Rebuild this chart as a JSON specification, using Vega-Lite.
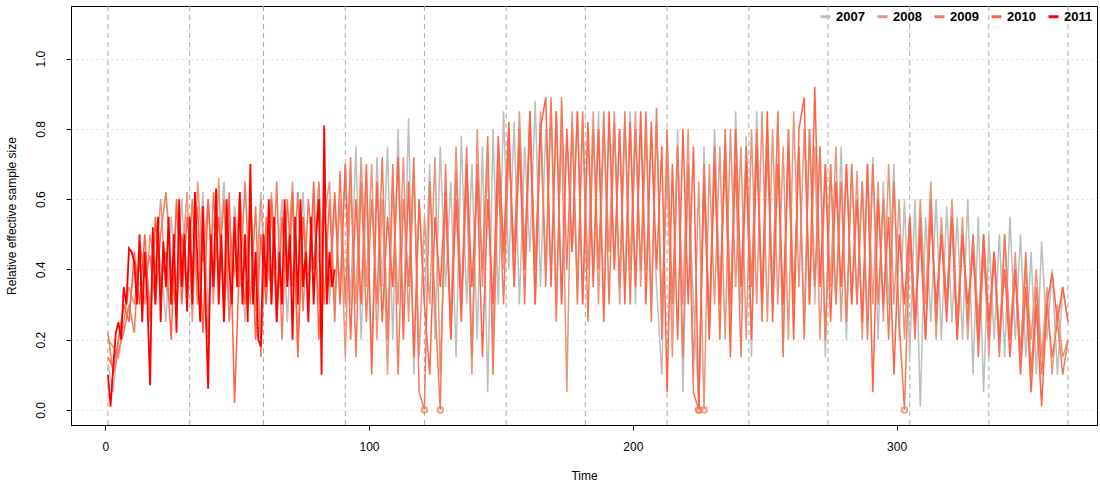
{
"$schema":"https://vega.github.io/schema/vega-lite/v6.json",
"autosize":{"type":"fit","contains":"padding"},
"width":1100,"height":488,
"background":"white",
"padding":{"left":5,"top":5,"right":3,"bottom":7},
"config":{"font":"Liberation Sans","view":{"stroke":"black","strokeWidth":1},"axis":{"labelFontSize":12,"titleFontSize":12,"titleFontWeight":"normal","tickColor":"black","domainColor":"black","labelColor":"black","titleColor":"black"}},
"datasets":{
"a":[
{"t":1,"a":0.13,"b":0.2,"c":0.22,"d":0.15},{"t":3,"a":0.05,"b":0.18,"c":0.1,"d":0.12},{"t":5,"a":0.2,"b":0.15,"c":0.17,"d":0.2},{"t":7,"a":0.3,"b":0.25,"c":0.22,"d":0.3},{"t":9,"a":0.28,"b":0.35,"c":0.3,"d":0.25},{"t":11,"a":0.4,"b":0.3,"c":0.22,"d":0.45},{"t":13,"a":0.35,"b":0.42,"c":0.48,"d":0.3},{"t":15,"a":0.45,"b":0.3,"c":0.38,"d":0.5},{"t":17,"a":0.3,"b":0.5,"c":0.44,"d":0.25},{"t":19,"a":0.5,"b":0.4,"c":0.3,"d":0.55},{"t":21,"a":0.42,"b":0.6,"c":0.5,"d":0.35},{"t":23,"a":0.25,"b":0.35,"c":0.62,"d":0.45},{"t":25,"a":0.55,"b":0.3,"c":0.4,"d":0.2},{"t":27,"a":0.35,"b":0.58,"c":0.28,"d":0.6},{"t":29,"a":0.6,"b":0.4,"c":0.5,"d":0.3},{"t":31,"a":0.3,"b":0.62,"c":0.35,"d":0.55},
{"t":33,"a":0.52,"b":0.25,"c":0.6,"d":0.4},{"t":35,"a":0.38,"b":0.65,"c":0.3,"d":0.58},{"t":37,"a":0.62,"b":0.42,"c":0.55,"d":0.22},{"t":39,"a":0.28,"b":0.6,"c":0.2,"d":0.6},{"t":41,"a":0.55,"b":0.3,"c":0.62,"d":0.35},{"t":43,"a":0.4,"b":0.66,"c":0.38,"d":0.55},{"t":45,"a":0.65,"b":0.25,"c":0.6,"d":0.3},{"t":47,"a":0.3,"b":0.55,"c":0.25,"d":0.62},{"t":49,"a":0.58,"b":0.38,"c":0.5,"d":0.02},{"t":51,"a":0.45,"b":0.62,"c":0.35,"d":0.45},{"t":53,"a":0.25,"b":0.4,"c":0.65,"d":0.3},{"t":55,"a":0.6,"b":0.55,"c":0.3,"d":0.6},{"t":57,"a":0.35,"b":0.28,"c":0.58,"d":0.2},{"t":59,"a":0.62,"b":0.6,"c":0.15,"d":0.5},{"t":61,"a":0.3,"b":0.35,"c":0.55,"d":0.3},
{"t":63,"a":0.55,"b":0.62,"c":0.3,"d":0.6},{"t":65,"a":0.4,"b":0.3,"c":0.65,"d":0.25},{"t":67,"a":0.6,"b":0.55,"c":0.2,"d":0.55},{"t":69,"a":0.25,"b":0.42,"c":0.6,"d":0.35},{"t":71,"a":0.58,"b":0.65,"c":0.35,"d":0.62},{"t":73,"a":0.35,"b":0.2,"c":0.62,"d":0.15},{"t":75,"a":0.62,"b":0.55,"c":0.28,"d":0.55},{"t":77,"a":0.3,"b":0.38,"c":0.6,"d":0.3},{"t":79,"a":0.55,"b":0.6,"c":0.4,"d":0.65},{"t":81,"a":0.42,"b":0.3,"c":0.65,"d":0.2},{"t":83,"a":0.6,"b":0.55,"c":0.3,"d":0.58},{"t":85,"a":0.3,"b":0.65,"c":0.6,"d":0.35},{"t":87,"a":0.58,"b":0.3,"c":0.25,"d":0.62},{"t":89,"a":0.35,"b":0.6,"c":0.68,"d":0.3},
{"t":91,"a":0.7,"b":0.15,"c":0.3,"d":0.7},{"t":93,"a":0.3,"b":0.65,"c":0.72,"d":0.2},{"t":95,"a":0.75,"b":0.3,"c":0.15,"d":0.6},{"t":97,"a":0.2,"b":0.72,"c":0.65,"d":0.3},{"t":99,"a":0.62,"b":0.35,"c":0.25,"d":0.7},{"t":101,"a":0.15,"b":0.7,"c":0.6,"d":0.1},{"t":103,"a":0.72,"b":0.2,"c":0.3,"d":0.65},{"t":105,"a":0.35,"b":0.6,"c":0.72,"d":0.25},{"t":107,"a":0.75,"b":0.1,"c":0.2,"d":0.55},{"t":109,"a":0.2,"b":0.65,"c":0.7,"d":0.35},{"t":111,"a":0.8,"b":0.3,"c":0.1,"d":0.72},{"t":113,"a":0.25,"b":0.72,"c":0.6,"d":0.2},{"t":115,"a":0.83,"b":0.25,"c":0.35,"d":0.65},{"t":117,"a":0.1,"b":0.68,"c":0.72,"d":0.15},{"t":119,"a":0.6,"b":0.15,"c":0.05,"d":0.6},{"t":121,"a":0.3,"b":0.55,"c":0.0,"d":0.3},{"t":123,"a":0.7,"b":0.3,"c":0.65,"d":0.1},{"t":125,"a":0.2,"b":0.72,"c":0.3,"d":0.55},{"t":127,"a":0.75,"b":0.1,"c":0.0,"d":0.35},{"t":129,"a":0.35,"b":0.6,"c":0.7,"d":0.62},{"t":131,"a":0.65,"b":0.25,"c":0.2,"d":0.2},{"t":133,"a":0.15,"b":0.75,"c":0.68,"d":0.6},{"t":135,"a":0.78,"b":0.3,"c":0.3,"d":0.25},{"t":137,"a":0.3,"b":0.65,"c":0.75,"d":0.7},{"t":139,"a":0.7,"b":0.1,"c":0.15,"d":0.35},{"t":141,"a":0.2,"b":0.8,"c":0.7,"d":0.65},{"t":143,"a":0.75,"b":0.35,"c":0.4,"d":0.15},{"t":145,"a":0.05,"b":0.7,"c":0.78,"d":0.6},{"t":147,"a":0.8,"b":0.2,"c":0.1,"d":0.3},{"t":149,"a":0.3,"b":0.72,"c":0.68,"d":0.78},
{"t":151,"a":0.85,"b":0.4,"c":0.3,"d":0.45},{"t":153,"a":0.4,"b":0.8,"c":0.75,"d":0.82},{"t":155,"a":0.82,"b":0.35,"c":0.45,"d":0.35},{"t":157,"a":0.3,"b":0.85,"c":0.8,"d":0.75},{"t":159,"a":0.75,"b":0.45,"c":0.3,"d":0.4},{"t":161,"a":0.45,"b":0.82,"c":0.85,"d":0.85},{"t":163,"a":0.88,"b":0.3,"c":0.4,"d":0.3},{"t":165,"a":0.35,"b":0.85,"c":0.82,"d":0.8},{"t":167,"a":0.8,"b":0.4,"c":0.35,"d":0.89},{"t":169,"a":0.4,"b":0.89,"c":0.88,"d":0.35},{"t":171,"a":0.85,"b":0.3,"c":0.25,"d":0.85},{"t":173,"a":0.3,"b":0.8,"c":0.89,"d":0.3},{"t":175,"a":0.78,"b":0.05,"c":0.4,"d":0.8},{"t":177,"a":0.45,"b":0.85,"c":0.82,"d":0.45},{"t":179,"a":0.85,"b":0.35,"c":0.3,"d":0.85},{"t":181,"a":0.3,"b":0.82,"c":0.85,"d":0.3},{"t":183,"a":0.8,"b":0.4,"c":0.25,"d":0.82},{"t":185,"a":0.4,"b":0.85,"c":0.8,"d":0.35},{"t":187,"a":0.85,"b":0.3,"c":0.4,"d":0.8},{"t":189,"a":0.3,"b":0.8,"c":0.85,"d":0.25},{"t":191,"a":0.82,"b":0.45,"c":0.3,"d":0.85},{"t":193,"a":0.4,"b":0.85,"c":0.82,"d":0.4},{"t":195,"a":0.8,"b":0.3,"c":0.35,"d":0.8},{"t":197,"a":0.35,"b":0.82,"c":0.85,"d":0.3},{"t":199,"a":0.85,"b":0.4,"c":0.3,"d":0.82},{"t":201,"a":0.3,"b":0.85,"c":0.8,"d":0.35},{"t":203,"a":0.82,"b":0.35,"c":0.4,"d":0.85},{"t":205,"a":0.4,"b":0.8,"c":0.85,"d":0.3},{"t":207,"a":0.78,"b":0.3,"c":0.25,"d":0.82},{"t":209,"a":0.35,"b":0.82,"c":0.86,"d":0.4},
{"t":211,"a":0.1,"b":0.3,"c":0.2,"d":0.75},{"t":213,"a":0.75,"b":0.7,"c":0.8,"d":0.05},{"t":215,"a":0.2,"b":0.15,"c":0.3,"d":0.7},{"t":217,"a":0.8,"b":0.75,"c":0.75,"d":0.2},{"t":219,"a":0.05,"b":0.3,"c":0.15,"d":0.8},{"t":221,"a":0.7,"b":0.8,"c":0.7,"d":0.3},{"t":223,"a":0.3,"b":0.1,"c":0.05,"d":0.75},{"t":225,"a":0.02,"b":0.65,"c":0.0,"d":0.0},{"t":227,"a":0.75,"b":0.0,"c":0.7,"d":0.65},{"t":229,"a":0.2,"b":0.7,"c":0.25,"d":0.2},{"t":231,"a":0.8,"b":0.3,"c":0.75,"d":0.7},{"t":233,"a":0.35,"b":0.75,"c":0.2,"d":0.3},{"t":235,"a":0.7,"b":0.2,"c":0.8,"d":0.75},{"t":237,"a":0.25,"b":0.8,"c":0.3,"d":0.15},{"t":239,"a":0.85,"b":0.35,"c":0.7,"d":0.8},{"t":241,"a":0.3,"b":0.75,"c":0.15,"d":0.35},{"t":243,"a":0.78,"b":0.2,"c":0.75,"d":0.7},{"t":245,"a":0.15,"b":0.8,"c":0.35,"d":0.2},{"t":247,"a":0.85,"b":0.3,"c":0.8,"d":0.75},{"t":249,"a":0.3,"b":0.85,"c":0.25,"d":0.3},{"t":251,"a":0.8,"b":0.25,"c":0.75,"d":0.85},{"t":253,"a":0.35,"b":0.8,"c":0.3,"d":0.25},{"t":255,"a":0.85,"b":0.3,"c":0.85,"d":0.7},{"t":257,"a":0.2,"b":0.75,"c":0.15,"d":0.3},{"t":259,"a":0.8,"b":0.2,"c":0.8,"d":0.75},{"t":261,"a":0.3,"b":0.85,"c":0.3,"d":0.2},{"t":263,"a":0.75,"b":0.35,"c":0.75,"d":0.8},{"t":265,"a":0.25,"b":0.8,"c":0.2,"d":0.89},{"t":267,"a":0.8,"b":0.3,"c":0.8,"d":0.3},{"t":269,"a":0.3,"b":0.75,"c":0.35,"d":0.92},{"t":271,"a":0.75,"b":0.2,"c":0.75,"d":0.35},{"t":273,"a":0.15,"b":0.7,"c":0.2,"d":0.7},{"t":275,"a":0.7,"b":0.35,"c":0.7,"d":0.25},{"t":277,"a":0.3,"b":0.75,"c":0.3,"d":0.65},{"t":279,"a":0.75,"b":0.25,"c":0.65,"d":0.35},{"t":281,"a":0.2,"b":0.7,"c":0.25,"d":0.7},{"t":283,"a":0.7,"b":0.3,"c":0.7,"d":0.3},{"t":285,"a":0.3,"b":0.68,"c":0.3,"d":0.6},{"t":287,"a":0.65,"b":0.2,"c":0.65,"d":0.25},{"t":289,"a":0.25,"b":0.7,"c":0.2,"d":0.7},{"t":291,"a":0.72,"b":0.3,"c":0.7,"d":0.05},{"t":293,"a":0.2,"b":0.65,"c":0.3,"d":0.6},{"t":295,"a":0.65,"b":0.25,"c":0.6,"d":0.3},{"t":297,"a":0.3,"b":0.7,"c":0.2,"d":0.55},{"t":299,"a":0.7,"b":0.3,"c":0.65,"d":0.1},
{"t":301,"a":0.2,"b":0.6,"c":0.25,"d":0.5},{"t":303,"a":0.6,"b":0.2,"c":0.0,"d":0.3},{"t":305,"a":0.15,"b":0.55,"c":0.5,"d":0.55},{"t":307,"a":0.6,"b":0.25,"c":0.2,"d":0.25},{"t":309,"a":0.01,"b":0.6,"c":0.55,"d":0.5},{"t":311,"a":0.55,"b":0.3,"c":0.2,"d":0.2},{"t":313,"a":0.25,"b":0.65,"c":0.6,"d":0.55},{"t":315,"a":0.6,"b":0.2,"c":0.25,"d":0.3},{"t":317,"a":0.2,"b":0.55,"c":0.5,"d":0.5},{"t":319,"a":0.58,"b":0.3,"c":0.3,"d":0.25},{"t":321,"a":0.25,"b":0.6,"c":0.55,"d":0.55},{"t":323,"a":0.55,"b":0.25,"c":0.2,"d":0.2},{"t":325,"a":0.2,"b":0.55,"c":0.5,"d":0.5},{"t":327,"a":0.6,"b":0.2,"c":0.25,"d":0.3},{"t":329,"a":0.1,"b":0.5,"c":0.5,"d":0.45},{"t":331,"a":0.55,"b":0.25,"c":0.15,"d":0.2},{"t":333,"a":0.05,"b":0.5,"c":0.45,"d":0.5},{"t":335,"a":0.5,"b":0.15,"c":0.2,"d":0.25},{"t":337,"a":0.2,"b":0.45,"c":0.45,"d":0.45},{"t":339,"a":0.5,"b":0.2,"c":0.15,"d":0.2},{"t":341,"a":0.15,"b":0.5,"c":0.5,"d":0.4},{"t":343,"a":0.55,"b":0.2,"c":0.2,"d":0.15},{"t":345,"a":0.2,"b":0.45,"c":0.4,"d":0.4},{"t":347,"a":0.5,"b":0.15,"c":0.15,"d":0.1},{"t":349,"a":0.15,"b":0.4,"c":0.45,"d":0.35},{"t":351,"a":0.45,"b":0.2,"c":0.1,"d":0.05},{"t":353,"a":0.1,"b":0.4,"c":0.35,"d":0.3},{"t":355,"a":0.48,"b":0.15,"c":0.1,"d":0.01},{"t":357,"a":0.2,"b":0.35,"c":0.3,"d":0.3},{"t":359,"a":0.4,"b":0.1,"c":0.15,"d":0.39},{"t":361,"a":0.1,"b":0.3,"c":0.25,"d":0.25},{"t":363,"a":0.35,"b":0.15,"c":0.1,"d":0.35},{"t":365,"a":0.25,"b":0.2,"c":0.2,"d":0.25}
],
"r":[
{"t":1,"y":0.1},{"t":2,"y":0.01},{"t":3,"y":0.12},{"t":4,"y":0.22},{"t":5,"y":0.25},{"t":6,"y":0.2},{"t":7,"y":0.35},{"t":8,"y":0.3},{"t":9,"y":0.46},{"t":10,"y":0.45},{"t":11,"y":0.42},{"t":12,"y":0.3},{"t":13,"y":0.5},{"t":14,"y":0.25},{"t":15,"y":0.45},{"t":16,"y":0.3},{"t":17,"y":0.07},{"t":18,"y":0.52},{"t":19,"y":0.3},{"t":20,"y":0.55},{"t":21,"y":0.25},{"t":22,"y":0.48},{"t":23,"y":0.35},{"t":24,"y":0.55},{"t":25,"y":0.3},{"t":26,"y":0.5},{"t":27,"y":0.22},{"t":28,"y":0.6},{"t":29,"y":0.35},{"t":30,"y":0.5},{"t":31,"y":0.28},{"t":32,"y":0.55},{"t":33,"y":0.3},{"t":34,"y":0.62},{"t":35,"y":0.4},{"t":36,"y":0.25},{"t":37,"y":0.58},{"t":38,"y":0.3},{"t":39,"y":0.06},{"t":40,"y":0.5},{"t":41,"y":0.35},{"t":42,"y":0.63},{"t":43,"y":0.3},{"t":44,"y":0.5},{"t":45,"y":0.25},{"t":46,"y":0.6},{"t":47,"y":0.4},{"t":48,"y":0.3},{"t":49,"y":0.55},{"t":50,"y":0.35},{"t":51,"y":0.62},{"t":52,"y":0.3},{"t":53,"y":0.5},{"t":54,"y":0.25},{"t":55,"y":0.7},{"t":56,"y":0.3},{"t":57,"y":0.45},{"t":58,"y":0.2},{"t":59,"y":0.18},{"t":60,"y":0.5},{"t":61,"y":0.35},{"t":62,"y":0.6},{"t":63,"y":0.3},{"t":64,"y":0.55},{"t":65,"y":0.25},{"t":66,"y":0.45},{"t":67,"y":0.3},{"t":68,"y":0.6},{"t":69,"y":0.35},{"t":70,"y":0.5},{"t":71,"y":0.2},{"t":72,"y":0.55},{"t":73,"y":0.3},{"t":74,"y":0.6},{"t":75,"y":0.35},{"t":76,"y":0.45},{"t":77,"y":0.25},{"t":78,"y":0.55},{"t":79,"y":0.3},{"t":80,"y":0.5},{"t":81,"y":0.6},{"t":82,"y":0.1},{"t":83,"y":0.81},{"t":84,"y":0.3},{"t":85,"y":0.45},{"t":86,"y":0.35},{"t":87,"y":0.4}
],
"m":[{"t":1},{"t":32},{"t":60},{"t":91},{"t":121},{"t":152},{"t":182},{"t":213},{"t":244},{"t":274},{"t":305},{"t":335},{"t":365}]
},
"encoding":{
"x":{"field":"t","type":"quantitative","scale":{"domain":[-13,376],"nice":false,"zero":false},"axis":{"title":"Time","values":[0,100,200,300],"grid":false,"titlePadding":18,"labelPadding":11}},
"y":{"field":"y","type":"quantitative","scale":{"domain":[-0.043,1.15],"nice":false},"axis":{"title":"Relative effective sample size","values":[0,0.2,0.4,0.6,0.8,1.0],"format":".1f","labelAngle":-90,"labelAlign":"center","labelBaseline":"bottom","labelPadding":19,"grid":true,"gridDash":[2,3],"gridColor":"#dddddd","titlePadding":16}}
},
"layer":[
{"data":{"name":"m"},"mark":{"type":"rule","strokeDash":[5,4],"color":"#aaaaaa"},"encoding":{"x":{"field":"t","type":"quantitative"},"y":null}},
{"data":{"name":"a"},"transform":[{"fold":["a","b","c","d"],"as":["s","y"]}],"mark":{"type":"line","strokeWidth":1.5},"encoding":{"detail":{"field":"s"},"color":{"field":"s","type":"nominal","scale":{"domain":["a","b","c","d"],"range":["#bebebe","#e9967a","#f07a5a","#ff6347"]},"legend":null}}},
{"data":{"name":"a"},"transform":[{"fold":["b","c","d"],"as":["s","y"]},{"filter":"datum.y == 0"}],"mark":{"type":"point","shape":"circle","size":30,"filled":false,"color":"#f07a5a"}},
{"data":{"name":"r"},"mark":{"type":"line","color":"#ff0000","strokeWidth":1.8}},
{"data":{"values":[{"k":"2007"},{"k":"2008"},{"k":"2009"},{"k":"2010"},{"k":"2011"}]},"mark":{"type":"line"},"encoding":{"x":null,"y":null,"stroke":{"field":"k","type":"nominal","scale":{"domain":["2007","2008","2009","2010","2011"],"range":["#bebebe","#e9967a","#f07a5a","#ff6347","#ff0000"]},"legend":{"title":null,"orient":"top-right","direction":"horizontal","symbolType":"stroke","symbolStrokeWidth":3,"labelFontWeight":"bold","labelFontSize":13,"columnPadding":6,"offset":4}}}}
]
}
